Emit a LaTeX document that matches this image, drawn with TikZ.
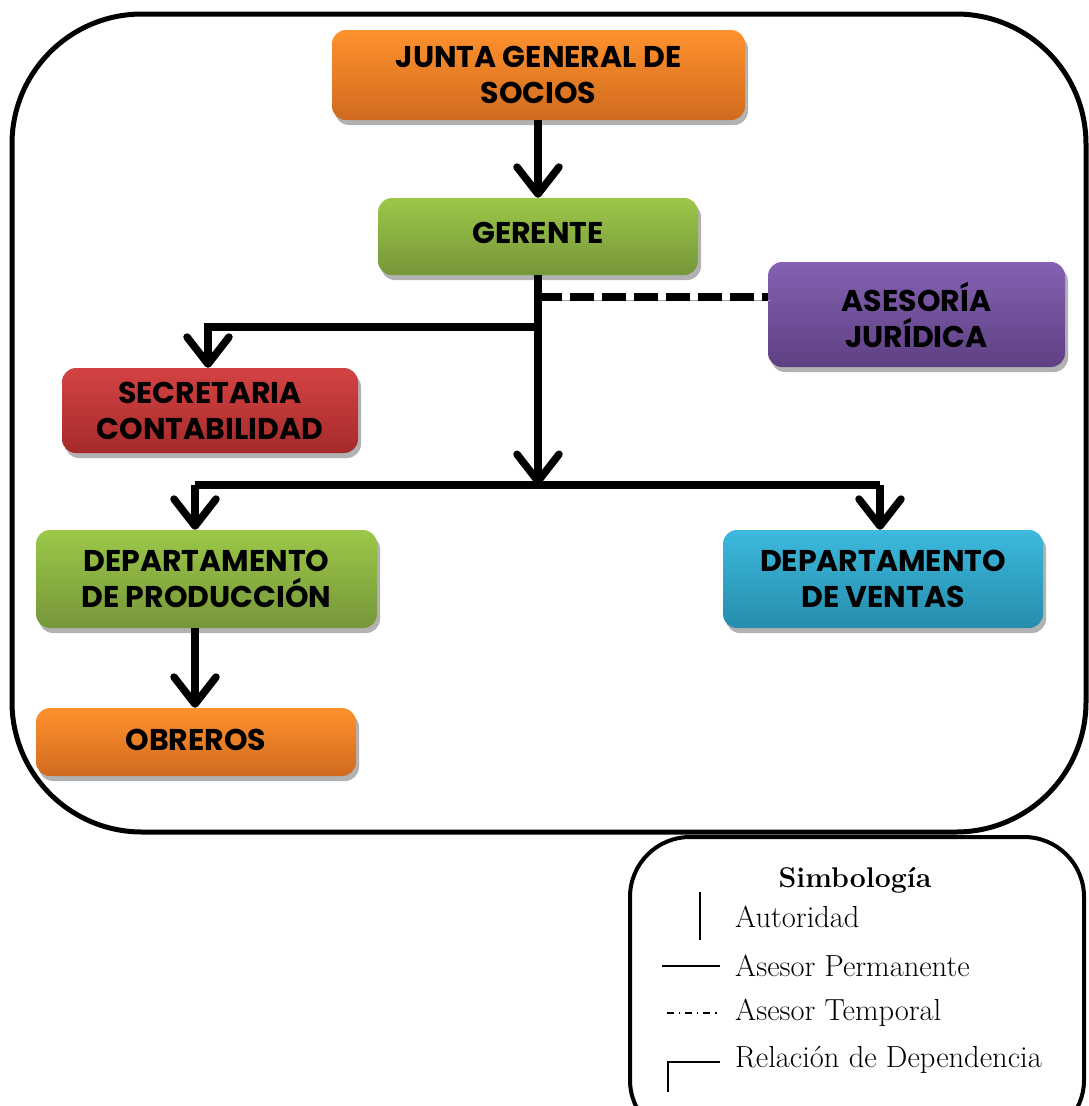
\documentclass[tikz,border=0pt]{standalone}
\usepackage{fontspec}
\newfontfamily\boxfont{Poppins}
\usetikzlibrary{arrows.meta,shadows}

\definecolor{orTop}{HTML}{FF922E}\definecolor{orBot}{HTML}{D06A1E}
\definecolor{grTop}{HTML}{9CC748}\definecolor{grBot}{HTML}{76963A}
\definecolor{puTop}{HTML}{8461B2}\definecolor{puBot}{HTML}{5E4082}
\definecolor{reTop}{HTML}{D44343}\definecolor{reBot}{HTML}{A52A2A}
\definecolor{blTop}{HTML}{3CB9DE}\definecolor{blBot}{HTML}{268DAB}

\tikzset{
  unitbox/.style={rounded corners=14pt, align=center, inner sep=0pt,
    font=\boxfont\bfseries\fontsize{30}{36}\selectfont,
    drop shadow={shadow xshift=3pt, shadow yshift=-5pt, fill=black!30, opacity=1}},
  orangebox/.style={unitbox, top color=orTop, bottom color=orBot},
  greenbox/.style={unitbox, top color=grTop, bottom color=grBot},
  purplebox/.style={unitbox, top color=puTop, bottom color=puBot},
  redbox/.style={unitbox, top color=reTop, bottom color=reBot},
  bluebox/.style={unitbox, top color=blTop, bottom color=blBot},
  link/.style={line width=7.5pt,
    preaction={draw=black!35, transform canvas={shift={(2pt,-3pt)}}}},
  arrowlink/.style={link, -{Straight Barb[length=27pt,width=42pt,line cap=round,line join=round]}},
  tempolink/.style={link, dash pattern=on 24pt off 8pt},
  legendtext/.style={anchor=west, inner sep=0pt, font=\fontsize{30.5}{33}\selectfont},
}

\begin{document}
\begin{tikzpicture}[x=1pt,y=-1pt]
\useasboundingbox (0,0) rectangle (1089,1106);
\clip (0,0) rectangle (1089,1106);

% outer frame of the chart
\draw[line width=5pt, rounded corners=130pt] (12,14) rectangle (1086,832);

% organisational units
\node[orangebox, minimum width=413pt, minimum height=90pt] (junta) at (538.5,75)
  {JUNTA GENERAL DE\\SOCIOS};
\node[greenbox, minimum width=320pt, minimum height=77pt] (gerente) at (538,236.5)
  {\raisebox{8pt}{GERENTE}};
\node[purplebox, minimum width=297pt, minimum height=105pt] (asesoria) at (916.5,314.5)
  {ASESORÍA\\JURÍDICA};
\node[redbox, minimum width=296pt, minimum height=85pt] (secret) at (210,410.5)
  {SECRETARIA\\CONTABILIDAD};
\node[greenbox, minimum width=341pt, minimum height=98pt] (prod) at (206.5,579)
  {DEPARTAMENTO\\DE PRODUCCIÓN};
\node[bluebox, minimum width=320pt, minimum height=98pt] (ventas) at (883,579)
  {DEPARTAMENTO\\DE VENTAS};
\node[orangebox, minimum width=320pt, minimum height=68pt] (obreros) at (196,742)
  {\raisebox{5pt}{OBREROS}};

% junction points of the connectors
\coordinate (staff) at (538,297);
\coordinate (branch) at (538,327);
\coordinate (bus) at (538,485);
\coordinate (busL) at (195,485);
\coordinate (busR) at (880,485);

% connectors
\draw[tempolink] (staff) -- (staff -| asesoria.west);
\draw[arrowlink] (junta.south -| gerente.north) -- (gerente.north);
\draw[link] (branch) -| (208,340);
\draw[arrowlink] (208,330) -- (secret.north -| 208,0);
\draw[link] (busL) -- (busR);
\draw[arrowlink] (gerente.south) -- (bus);
\draw[arrowlink] (busL) -- (prod.north -| busL);
\draw[arrowlink] (busR) -- (ventas.north -| busR);
\draw[arrowlink] (prod.south -| obreros.north) ++(-1,0) -- ([xshift=-1pt]obreros.north);

% legend
\draw[line width=4pt, rounded corners=60pt] (630,837) rectangle (1084,1140);
\node[font=\bfseries\fontsize{28.5}{30}\selectfont, inner sep=0pt] (legtitle) at (855,880) {Simbología};
\node[legendtext] (l1) at (735,917) {Autoridad};
\node[legendtext] (l2) at (735,966) {Asesor Permanente};
\node[legendtext] (l3) at (735,1013) {Asesor Temporal};
\node[legendtext] (l4) at (735,1060) {Relación de Dependencia};
\coordinate (s1a) at (700,892); \coordinate (s1b) at (700,940);
\draw[line width=1.2pt] (s1a) -- (s1b);
\coordinate (s2a) at (662,966); \coordinate (s2b) at (720,966);
\draw[line width=1.2pt] (s2a) -- (s2b);
\coordinate (s3a) at (667,1013); \coordinate (s3b) at (720,1013);
\draw[line width=1.2pt, dash pattern=on 7pt off 5pt on 1.2pt off 5pt] (s3a) -- (s3b);
\coordinate (s4a) at (668,1092); \coordinate (s4b) at (668,1062); \coordinate (s4c) at (720,1062);
\draw[line width=1.2pt] (s4a) -- (s4b) -- (s4c);
\end{tikzpicture}
\end{document}
